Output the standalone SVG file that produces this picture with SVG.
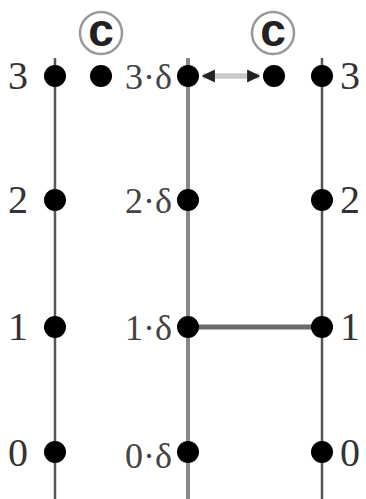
<svg xmlns="http://www.w3.org/2000/svg" width="366" height="499" viewBox="0 0 366 499">
<style>
.dot{fill:#000}
.lbl{font-family:"Liberation Serif","Times New Roman",serif;font-size:40px;fill:#333}
.mlbl{font-family:"Liberation Serif","Times New Roman",serif;font-size:36px;fill:#444}
.circ{fill:#fff;stroke:#999;stroke-width:2.5}
.clbl{font-family:"Liberation Sans",Arial,sans-serif;font-weight:bold;font-size:46px;fill:#222;text-anchor:middle}
</style>
<defs>
<marker id="ah" viewBox="0 0 10 10" refX="9" refY="5" markerWidth="2.4" markerHeight="2.4" orient="auto-start-reverse" markerUnits="strokeWidth">
<path d="M0,0 L10,5 L0,10 z" fill="#222"/>
</marker>
</defs>
<rect width="366" height="499" fill="#fff"/>
<g id="connectors">
<line x1="55" y1="58" x2="55" y2="499" stroke="#555" stroke-width="2.5"/>
<line x1="188" y1="58" x2="188" y2="499" stroke="#888" stroke-width="4"/>
<line x1="322" y1="58" x2="322" y2="499" stroke="#555" stroke-width="2.5"/>
<line x1="188" y1="327" x2="322" y2="327" stroke="#6a6a6a" stroke-width="5"/>
<line x1="203" y1="76" x2="259" y2="76" stroke="#c8c8c8" stroke-width="5.5" marker-start="url(#ah)" marker-end="url(#ah)"/>
</g>
<g id="left">
<circle class="dot" cx="55" cy="76" r="11"/>
<circle class="dot" cx="55" cy="200" r="11"/>
<circle class="dot" cx="55" cy="327" r="11"/>
<circle class="dot" cx="55" cy="452" r="11"/>
<text class="lbl" x="18" y="89" text-anchor="middle">3</text>
<text class="lbl" x="18" y="213" text-anchor="middle">2</text>
<text class="lbl" x="18" y="340" text-anchor="middle">1</text>
<text class="lbl" x="18" y="466" text-anchor="middle">0</text>
</g>
<g id="extra-left">
<circle class="circ" cx="101" cy="33" r="21"/>
<text class="clbl" x="101" y="46">c</text>
<circle class="dot" cx="101" cy="76" r="11"/>
</g>
<g id="middle">
<circle class="dot" cx="188" cy="76" r="11"/>
<circle class="dot" cx="188" cy="200" r="11"/>
<circle class="dot" cx="188" cy="327" r="11"/>
<circle class="dot" cx="188" cy="452" r="11"/>
<text class="mlbl" x="172" y="89" text-anchor="end">3·δ</text>
<text class="mlbl" x="172" y="213" text-anchor="end">2·δ</text>
<text class="mlbl" x="172" y="340" text-anchor="end">1·δ</text>
<text class="mlbl" x="172" y="468" text-anchor="end">0·δ</text>
</g>
<g id="extra-right">
<circle class="circ" cx="273" cy="33" r="21"/>
<text class="clbl" x="273" y="46">c</text>
<circle class="dot" cx="274" cy="76" r="11"/>
</g>
<g id="right">
<circle class="dot" cx="322" cy="76" r="11"/>
<circle class="dot" cx="322" cy="200" r="11"/>
<circle class="dot" cx="322" cy="327" r="11"/>
<circle class="dot" cx="322" cy="452" r="11"/>
<text class="lbl" x="350" y="89" text-anchor="middle">3</text>
<text class="lbl" x="350" y="213" text-anchor="middle">2</text>
<text class="lbl" x="350" y="340" text-anchor="middle">1</text>
<text class="lbl" x="350" y="466" text-anchor="middle">0</text>
</g>
</svg>
